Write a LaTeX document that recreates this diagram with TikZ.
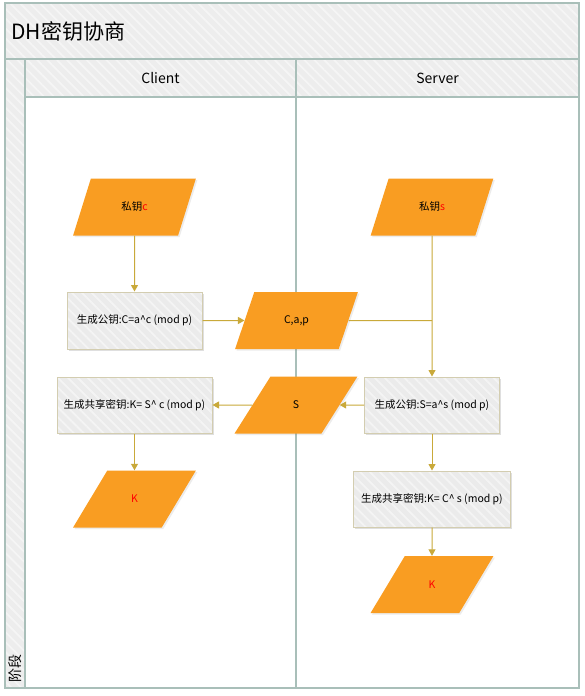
\documentclass[tikz,border=0pt]{standalone}
\usepackage{fontspec}
\setmainfont{Noto Sans CJK SC}
\usetikzlibrary{arrows.meta,shapes.geometric,shadows,patterns.meta}
\definecolor{laneline}{HTML}{A9BFB9}
\definecolor{bandgray}{HTML}{EDEDED}
\definecolor{boxgray}{HTML}{EBEBEB}
\definecolor{boxline}{HTML}{D3CDB0}
\definecolor{orangefill}{HTML}{F99D22}
\definecolor{arrowc}{HTML}{C9A93A}
\tikzset{
  hatch/.style={preaction={fill=#1}, pattern={Lines[angle=-45,distance=7pt,line width=1.8pt]}, pattern color=white!45!#1},
  frame/.style={draw=laneline, line width=1.6pt},
  proc/.style={drop shadow={shadow xshift=1.5pt, shadow yshift=-1.5pt, opacity=0.25},
    draw=boxline, line width=1pt, hatch=boxgray, inner sep=2pt,
    minimum height=57pt, font=\fontsize{10.5}{12}\selectfont},
  data/.style={shape=trapezium, trapezium left angle=61, trapezium right angle=119,
    trapezium stretches=true, minimum width=123pt, minimum height=57pt, inner sep=0pt,
    drop shadow={shadow xshift=1.5pt, shadow yshift=-1.5pt, opacity=0.15}, fill=orangefill,
    font=\fontsize{10.5}{12}\selectfont},
  arr/.style={draw=arrowc, line width=1pt, -{Triangle[width=7pt,length=6.5pt]}},
  ln/.style={draw=arrowc, line width=1pt},
  lanelabel/.style={font=\fontsize{14}{16}\selectfont}
}
\begin{document}
\begin{tikzpicture}[x=1pt,y=-1pt]
\useasboundingbox (0,0) rectangle (584,696);
\fill[white] (0,0) rectangle (584,696);
% pool frame
\path[hatch=bandgray] (5,3) rectangle (579,59);
\path[hatch=bandgray] (5,59) rectangle (25,688);
\path[hatch=bandgray] (25,59) rectangle (579,97);
\draw[frame] (5,59) -- (579,59);
\draw[frame] (25,59) -- (25,688);
\draw[frame] (25,97) -- (579,97);
\draw[frame] (296,59) -- (296,688);
\draw[frame] (5,3) rectangle (579,688);
% labels
\node[anchor=west, font=\fontsize{21}{24}\selectfont] (title) at (8,31) {DH密钥协商};
\node[lanelabel] (client) at (160.5,78) {Client};
\node[lanelabel] (server) at (437.5,78) {Server};
\node[rotate=90, anchor=west, font=\fontsize{14}{16}\selectfont] (stage) at (15,686) {阶段};
% client lane
\node[data] (pc) at (134.5,207) {私钥\textcolor{red}{c}};
\node[proc, minimum width=135pt] (gc) at (134.5,320.5) {生成公钥:C=a\textasciicircum c (mod p)};
\node[proc, minimum width=155pt, minimum height=56pt] (kc) at (134.5,405) {生成共享密钥:K= S\textasciicircum{} c (mod p)};
\node[data, text=red] (Kc) at (134.5,499) {K};
% middle
\node[data] (cap) at (296.5,320.5) {C,a,p};
\node[data] (S) at (296,405) {S};
% server lane
\node[data] (ps) at (432,207) {私钥\textcolor{red}{s}};
\node[proc, minimum width=135pt, minimum height=56pt] (gs) at (432,405) {生成公钥:S=a\textasciicircum s (mod p)};
\node[proc, minimum width=157pt, minimum height=56pt] (ks) at (432,499) {生成共享密钥:K= C\textasciicircum{} s (mod p)};
\node[data, text=red] (Ks) at (432,584.5) {K};
% connectors
\coordinate (j) at (ps |- cap);
\draw[arr] (pc) -- (gc);
\draw[arr] (gc) -- (cap);
\draw[ln] (cap) -- (j);
\draw[arr] (ps) -- (gs);
\draw[arr] (gs) -- (S);
\draw[arr] (S) -- (kc);
\draw[arr] (kc) -- (Kc);
\draw[arr] (gs) -- (ks);
\draw[arr] (ks) -- (Ks);
\end{tikzpicture}
\end{document}
